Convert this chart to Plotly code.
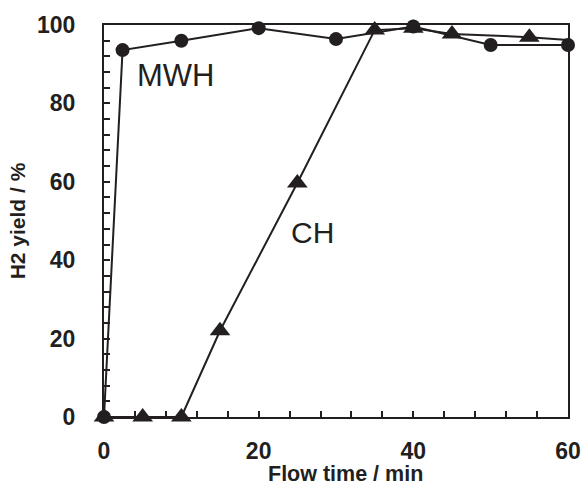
import plotly.graph_objects as go

mwh_x = [0, 2.4, 10, 20, 30, 40, 50, 60]
mwh_y = [0, 93.6, 96, 99.2, 96.4, 99.6, 94.9, 94.9]

ch_x = [0, 5, 10, 15, 25, 35, 40, 45, 55, 60]
ch_y = [0, 0, 0, 22, 59.7, 98.7, 99.2, 97.7, 96.9, 96.2]

x_ticks = [0, 20, 40, 60]
y_ticks = [0, 20, 40, 60, 80, 100]

x_title = "Flow time / min"
y_title = "H2 yield / %"

ink = "#231f20"
font_family = "Liberation Sans, Arial, sans-serif"

fig = go.Figure()
fig.add_trace(go.Scatter(
    x=mwh_x, y=mwh_y, mode="lines+markers",
    line=dict(color=ink, width=2),
    marker=dict(symbol="circle", size=14, color=ink, line=dict(width=0)),
    cliponaxis=False, showlegend=False))
ch_opacity = [1] * (len(ch_x) - 1) + [0]
fig.add_trace(go.Scatter(
    x=ch_x, y=ch_y, mode="lines+markers",
    line=dict(color=ink, width=2),
    marker=dict(symbol="triangle-up", size=18, color=ink, opacity=ch_opacity,
                line=dict(width=0)),
    cliponaxis=False, showlegend=False))

fig.add_annotation(x=9.2, y=87, text="MWH", showarrow=False,
                   font=dict(family=font_family, size=31, color=ink))
fig.add_annotation(x=27.0, y=47, text="CH", showarrow=False,
                   font=dict(family=font_family, size=30, color=ink))
fig.add_annotation(x=0.521, y=-0.1454, xref="paper", yref="paper",
                   xanchor="center", yanchor="middle", text=x_title, showarrow=False,
                   borderpad=0,
                   font=dict(family=font_family, size=21.5, color=ink, weight="bold"))

axis_common = dict(
    showline=True, linewidth=2, linecolor=ink, mirror=True,
    showgrid=False, zeroline=False, automargin=False,
    ticks="inside", ticklen=6, tickwidth=1.5, tickcolor=ink,
    tickfont=dict(family=font_family, size=23, color=ink, weight="bold"),
    minor=dict(dtick=4, ticks="inside", ticklen=6, tickwidth=1.5, tickcolor=ink, showgrid=False),
)

fig.update_xaxes(range=[0, 60], tickvals=x_ticks, ticklabelstandoff=12, **axis_common)
fig.update_yaxes(range=[0, 100], tickvals=y_ticks, ticklabelstandoff=22,
                 title=dict(text=y_title, standoff=6,
                            font=dict(family=font_family, size=21, color=ink, weight="bold")),
                 **axis_common)

fig.update_layout(
    width=584, height=486,
    margin=dict(l=104, r=16, t=25, b=69),
    plot_bgcolor="white", paper_bgcolor="white",
)

fig.write_html("out.html", config={"displayModeBar": False},
               post_script="document.body.style.margin='0px';document.body.style.overflow='hidden';")
